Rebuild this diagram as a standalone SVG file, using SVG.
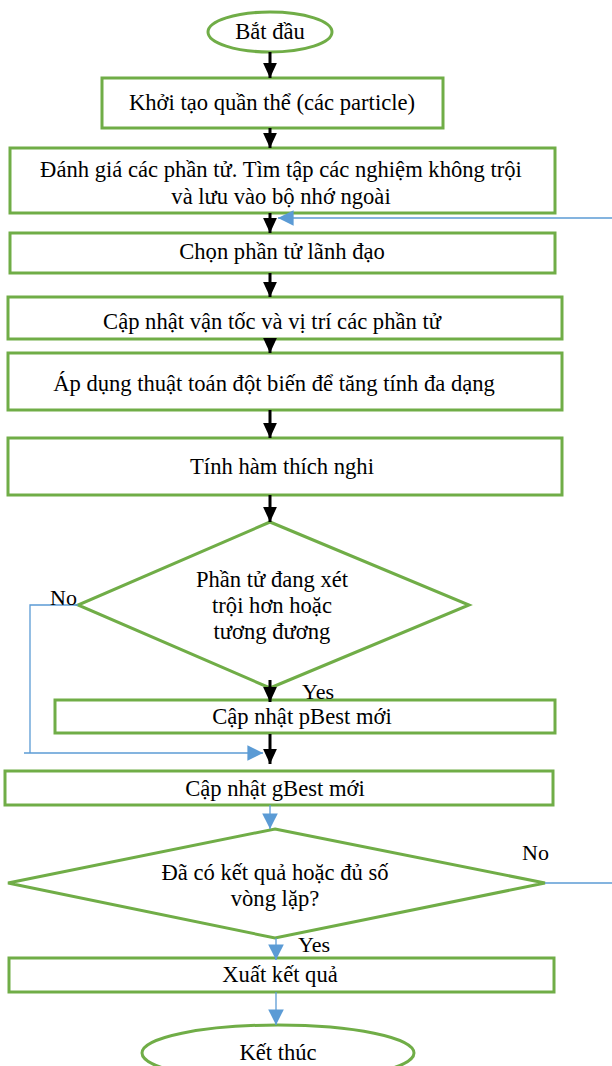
<svg xmlns="http://www.w3.org/2000/svg" width="612" height="1066" viewBox="0 0 612 1066">
<style>
.n{fill:#fff;stroke:#70AD47;stroke-width:3}
.t{font-family:"Liberation Serif","Times New Roman",serif;font-size:22.6px;fill:#000;text-anchor:middle}
.l{font-family:"Liberation Serif","Times New Roman",serif;font-size:22px;fill:#000}
.k{stroke:#000;stroke-width:3;fill:none}
.b{stroke:#5B9BD5;stroke-width:1.3;fill:none}
</style>
<defs>
<marker id="ak" markerWidth="5" markerHeight="5" refX="5" refY="2.5" orient="auto" markerUnits="strokeWidth"><path d="M0,0.2L5,2.5L0,4.8z" fill="#000"/></marker>
<marker id="ab" markerWidth="12" markerHeight="12" refX="12" refY="6" orient="auto" markerUnits="strokeWidth"><path d="M0,0L12,6L0,12z" fill="#5B9BD5"/></marker>
</defs>
<g id="start"><ellipse class="n" cx="270" cy="32" rx="62" ry="20"/><text class="t" x="270" y="39">Bắt đầu</text></g>
<g id="init"><rect class="n" x="102" y="78" width="341" height="50"/><text class="t" x="272" y="110">Khởi tạo quần thể (các particle)</text></g>
<g id="eval"><rect class="n" x="10" y="148" width="545" height="65"/><text class="t" x="281" y="177">Đánh giá các phần tử. Tìm tập các nghiệm không trội</text><text class="t" x="281" y="204">và lưu vào bộ nhớ ngoài</text></g>
<g id="leader"><rect class="n" x="10" y="233" width="545" height="40"/><text class="t" x="282" y="259">Chọn phần tử lãnh đạo</text></g>
<g id="update"><rect class="n" x="8" y="297" width="554" height="42"/><text class="t" x="272" y="329">Cập nhật vận tốc và vị trí các phần tử</text></g>
<g id="mutate"><rect class="n" x="8" y="353" width="554" height="57"/><text class="t" x="274" y="391">Áp dụng thuật toán đột biến để tăng tính đa dạng</text></g>
<g id="fitness"><rect class="n" x="8" y="438" width="554" height="57"/><text class="t" x="282" y="474">Tính hàm thích nghi</text></g>
<g id="dominate"><polygon class="n" points="270,522 469,605 270,688 78,605"/><text class="t" x="272" y="587">Phần tử đang xét</text><text class="t" x="272" y="613">trội hơn hoặc</text><text class="t" x="272" y="639">tương đương</text></g>
<g id="pbest"><rect class="n" x="55" y="700" width="500" height="33"/><text class="t" x="302" y="724">Cập nhật pBest mới</text></g>
<g id="gbest"><rect class="n" x="5" y="771" width="548" height="34"/><text class="t" x="275" y="796">Cập nhật gBest mới</text></g>
<g id="stop"><polygon class="n" points="275,829 545,883 275,938 8,883"/><text class="t" x="275" y="880">Đã có kết quả hoặc đủ số</text><text class="t" x="275" y="906">vòng lặp?</text></g>
<g id="output"><rect class="n" x="9" y="958" width="545" height="34"/><text class="t" x="280" y="982">Xuất kết quả</text></g>
<g id="end"><ellipse class="n" cx="278" cy="1053" rx="136" ry="28"/><text class="t" x="278" y="1060">Kết thúc</text></g>
<g id="connectors">
<line class="k" x1="270" y1="52" x2="270" y2="78" marker-end="url(#ak)"/>
<line class="k" x1="270" y1="128" x2="270" y2="148" marker-end="url(#ak)"/>
<line class="k" x1="270" y1="213" x2="270" y2="233" marker-end="url(#ak)"/>
<line class="k" x1="270" y1="273" x2="270" y2="297" marker-end="url(#ak)"/>
<line class="k" x1="270" y1="339" x2="270" y2="353" marker-end="url(#ak)"/>
<line class="k" x1="270" y1="410" x2="270" y2="438" marker-end="url(#ak)"/>
<line class="k" x1="270" y1="495" x2="270" y2="522" marker-end="url(#ak)"/>
<line class="k" x1="270" y1="680" x2="270" y2="702" marker-end="url(#ak)"/>
<line class="k" x1="270" y1="734" x2="270" y2="764" marker-end="url(#ak)"/>
<polyline class="b" points="612,218 278,218" marker-end="url(#ab)"/>
<polyline class="b" points="78,605 30,605 30,753"/>
<line class="b" x1="24" y1="753" x2="263" y2="753" marker-end="url(#ab)"/>
<line class="b" x1="270" y1="805" x2="270" y2="829" marker-end="url(#ab)"/>
<line class="b" x1="545" y1="883" x2="612" y2="883"/>
<line class="b" x1="276" y1="938" x2="276" y2="960" marker-end="url(#ab)"/>
<line class="b" x1="276" y1="992" x2="276" y2="1025" marker-end="url(#ab)"/>
<text class="l" x="50" y="605">No</text>
<text class="l" x="302" y="699">Yes</text>
<text class="l" x="522" y="860">No</text>
<text class="l" x="298" y="952">Yes</text>
</g>
</svg>
